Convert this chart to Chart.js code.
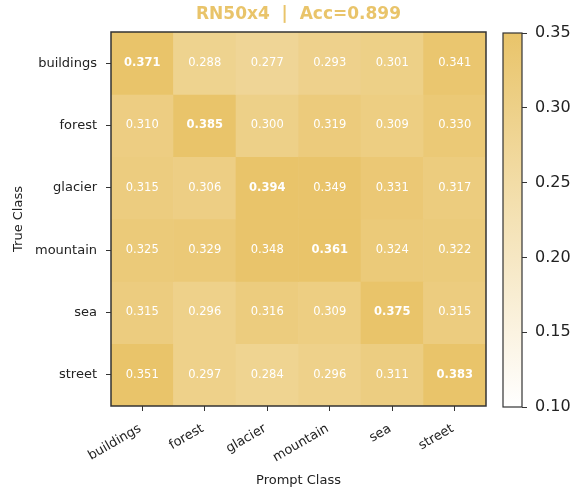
<!DOCTYPE html>
<html>
<head>
<meta charset="utf-8">
<script src="https://cdn.jsdelivr.net/npm/chart.js@4/dist/chart.umd.min.js"></script>
<style>
  html, body { margin: 0; padding: 0; background: #ffffff; overflow: hidden; }
  #wrap { position: relative; width: 575px; height: 489px; }
  #wrap canvas { position: absolute; top: 0; }
  #main { left: 0; }
  #cbar { left: 490px; }
</style>
</head>
<body>
<div id="wrap">
  <canvas id="main" width="575" height="489"></canvas>
  <canvas id="cbar" width="85" height="489"></canvas>
</div>
<script>
// Similarity matrix for RN50x4 (rows: true class, columns: prompt class)
const promptClasses = ['buildings', 'forest', 'glacier', 'mountain', 'sea', 'street'];
const trueClasses = ['buildings', 'forest', 'glacier', 'mountain', 'sea', 'street'];

const rowBuildings = [0.371, 0.288, 0.277, 0.293, 0.301, 0.341];
const rowForest    = [0.310, 0.385, 0.300, 0.319, 0.309, 0.330];
const rowGlacier   = [0.315, 0.306, 0.394, 0.349, 0.331, 0.317];
const rowMountain  = [0.325, 0.329, 0.348, 0.361, 0.324, 0.322];
const rowSea       = [0.315, 0.296, 0.316, 0.309, 0.375, 0.315];
const rowStreet    = [0.351, 0.297, 0.284, 0.296, 0.311, 0.383];
const matrix = [rowBuildings, rowForest, rowGlacier, rowMountain, rowSea, rowStreet];

const colorbarTicks = [0.10, 0.15, 0.20, 0.25, 0.30, 0.35];
const vmin = 0.10, vmax = 0.35;
const titleText = 'RN50x4  |  Acc=0.899';

const GOLD = [233, 196, 106];
const FONT = "'DejaVu Sans', sans-serif";

function cmap(v) {
  let t = (v - vmin) / (vmax - vmin);
  t = Math.max(0, Math.min(1, t));
  const c = GOLD.map(g => Math.round(255 + (g - 255) * t));
  return `rgb(${c[0]},${c[1]},${c[2]})`;
}

// One stacked dataset per true-class row; each cell is a unit-height bar segment
const datasets = trueClasses.map((name, r) => ({
  label: name,
  data: promptClasses.map(() => 1),
  values: matrix[r],
  backgroundColor: matrix[r].map(cmap),
  borderWidth: 0,
  barPercentage: 1.0,
  categoryPercentage: 1.0
}));

// Cell annotations, plot frame and a title centred over the plot area
const frameAndValues = {
  id: 'frameAndValues',
  afterDatasetsDraw(chart) {
    const c = chart.ctx;
    const a = chart.chartArea;
    c.save();
    c.textAlign = 'center';
    c.textBaseline = 'middle';
    c.fillStyle = '#ffffff';
    chart.data.datasets.forEach((ds, r) => {
      const meta = chart.getDatasetMeta(r);
      meta.data.forEach((bar, col) => {
        const cy = (bar.y + bar.base) / 2;
        c.font = (r === col ? 'bold ' : '') + '11.5px ' + FONT;
        c.fillText(ds.values[col].toFixed(3), bar.x, cy);
      });
    });
    c.strokeStyle = '#333333';
    c.lineWidth = 1.5;
    c.strokeRect(a.left, a.top, a.right - a.left, a.bottom - a.top);

    c.fillStyle = '#E9C46A';
    c.font = 'bold 17px ' + FONT;
    c.fillText(titleText, (a.left + a.right) / 2, 15);
    c.restore();
  }
};

new Chart(document.getElementById('main'), {
  type: 'bar',
  data: { labels: promptClasses, datasets },
  options: {
    responsive: false,
    animation: false,
    layout: { padding: { left: 0, right: 89, top: 32, bottom: 0 } },
    plugins: {
      legend: { display: false },
      tooltip: { enabled: false },
      title: { display: false }
    },
    scales: {
      x: {
        stacked: true,
        grid: { display: true, offset: false, drawOnChartArea: false, drawTicks: true, tickLength: 5, tickColor: '#333333' },
        border: { display: false },
        ticks: {
          color: '#222222',
          font: { family: FONT, size: 13 },
          minRotation: 30,
          maxRotation: 30,
          padding: 10,
          labelOffset: -2
        },
        title: {
          display: true,
          text: 'Prompt Class',
          color: '#222222',
          font: { family: FONT, size: 13 },
          padding: { top: 0, bottom: 1 }
        },
        afterFit(scale) { scale.height = 83; }
      },
      y: {
        type: 'linear',
        stacked: true,
        reverse: true,
        min: 0,
        max: 6,
        grid: { display: true, drawOnChartArea: false, drawTicks: true, tickLength: 5, tickColor: '#333333' },
        border: { display: false },
        afterBuildTicks(scale) {
          scale.ticks = trueClasses.map((_, i) => ({ value: i + 0.5 }));
        },
        ticks: {
          color: '#222222',
          font: { family: FONT, size: 13 },
          padding: 9,
          callback: (value, index) => trueClasses[index]
        },
        title: {
          display: true,
          text: 'True Class',
          color: '#222222',
          font: { family: FONT, size: 13 },
          padding: { top: 11, bottom: 0 }
        },
        afterFit(scale) { scale.width = 111; }
      }
    }
  },
  plugins: [frameAndValues]
});

// Colour bar: a single floating bar spanning the colour range, filled with the same ramp
const cbarFrame = {
  id: 'cbarFrame',
  afterDatasetsDraw(chart) {
    const c = chart.ctx;
    const a = chart.chartArea;
    c.save();
    c.strokeStyle = '#333333';
    c.lineWidth = 1.2;
    c.strokeRect(a.left, a.top, a.right - a.left, a.bottom - a.top);
    c.restore();
  }
};

new Chart(document.getElementById('cbar'), {
  type: 'bar',
  data: {
    labels: ['range'],
    datasets: [{
      data: [[vmin, vmax]],
      borderWidth: 0,
      barPercentage: 1.0,
      categoryPercentage: 1.0,
      backgroundColor(ctx) {
        const area = ctx.chart.chartArea;
        if (!area) return cmap(vmax);
        const g = ctx.chart.ctx.createLinearGradient(0, area.bottom, 0, area.top);
        for (let i = 0; i <= 10; i++) {
          g.addColorStop(i / 10, cmap(vmin + (vmax - vmin) * i / 10));
        }
        return g;
      }
    }]
  },
  options: {
    responsive: false,
    animation: false,
    layout: { padding: { left: 13, right: 0, top: 33, bottom: 82 } },
    plugins: { legend: { display: false }, tooltip: { enabled: false } },
    scales: {
      x: { display: false },
      y: {
        position: 'right',
        min: vmin,
        max: vmax,
        grid: { display: true, drawOnChartArea: false, drawTicks: true, tickLength: 5, tickColor: '#333333' },
        border: { display: false },
        afterBuildTicks(scale) {
          scale.ticks = colorbarTicks.map(v => ({ value: v }));
        },
        ticks: {
          color: '#222222',
          font: { family: FONT, size: 16 },
          padding: 8,
          callback: v => v.toFixed(2)
        },
        afterFit(scale) { scale.width = 53; }
      }
    }
  },
  plugins: [cbarFrame]
});
</script>
</body>
</html>
